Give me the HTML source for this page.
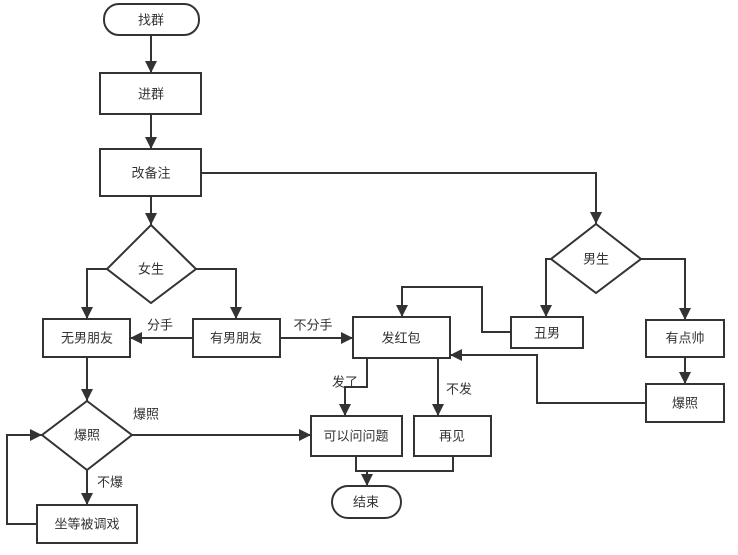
<!DOCTYPE html>
<html><head><meta charset="utf-8"><style>
body{margin:0;background:#fff}
svg{display:block}
text{font-family:"Liberation Sans","Noto Sans CJK SC",sans-serif;font-size:13px;fill:#333;text-anchor:middle;dominant-baseline:central}
</style></head><body>
<svg width="738" height="555" viewBox="0 0 738 555">
<defs><marker id="a" viewBox="0 0 10 10" refX="10" refY="5" markerWidth="12" markerHeight="12" markerUnits="userSpaceOnUse" orient="auto"><path d="M0,0L10,5L0,10z" fill="#333"/></marker></defs>
<g fill="none" stroke="#333" stroke-width="2">
<rect x="104" y="4" width="95" height="31" rx="15"/>
<rect x="100" y="73" width="101" height="41"/>
<rect x="100" y="149" width="101" height="47"/>
<path d="M151,225 L196,269 L151,303 L107,269Z"/>
<rect x="43" y="319" width="87" height="38"/>
<rect x="193" y="319" width="87" height="38"/>
<path d="M87,401 L132,435 L87,470 L42,435Z"/>
<rect x="37" y="505" width="100" height="38"/>
<rect x="353" y="317" width="97" height="41"/>
<rect x="311" y="416" width="91" height="40"/>
<rect x="414" y="416" width="77" height="40"/>
<rect x="332" y="486" width="69" height="32" rx="16"/>
<path d="M596,224 L641,259 L596,293 L551,259Z"/>
<rect x="511" y="317" width="72" height="31"/>
<rect x="646" y="320" width="78" height="37"/>
<rect x="646" y="384" width="78" height="38"/>
<g marker-end="url(#a)">
<path d="M151,35V73"/>
<path d="M151,114V149"/>
<path d="M151,196V225"/>
<path d="M201,173H596V224"/>
<path d="M107,269H87V319"/>
<path d="M196,269H236V319"/>
<path d="M193,338H130"/>
<path d="M280,338H353"/>
<path d="M87,357V401"/>
<path d="M87,470V505"/>
<path d="M37,524H7V435H42"/>
<path d="M132,435H311"/>
<path d="M551,259H546V317"/>
<path d="M641,259H685V320"/>
<path d="M685,357V384"/>
<path d="M511,332H482V287H402V317"/>
<path d="M646,403H537V355H450"/>
<path d="M367,358V387H345V416"/>
<path d="M438,358V416"/>
<path d="M367,471V486"/>
</g>
<path d="M356,456V471H453V456"/>
</g>
<text x="151" y="20">找群</text>
<text x="151" y="94">进群</text>
<text x="151" y="173">改备注</text>
<text x="151" y="269">女生</text>
<text x="87" y="338">无男朋友</text>
<text x="236" y="338">有男朋友</text>
<text x="87" y="435">爆照</text>
<text x="87" y="524">坐等被调戏</text>
<text x="401" y="338">发红包</text>
<text x="356" y="436">可以问问题</text>
<text x="452" y="436">再见</text>
<text x="366" y="502">结束</text>
<text x="596" y="259">男生</text>
<text x="547" y="333">丑男</text>
<text x="685" y="338">有点帅</text>
<text x="685" y="403">爆照</text>
<text x="160" y="325">分手</text>
<text x="313" y="325">不分手</text>
<text x="146" y="414">爆照</text>
<text x="110" y="482">不爆</text>
<text x="345" y="382">发了</text>
<text x="459" y="389">不发</text>
</svg>
</body></html>
